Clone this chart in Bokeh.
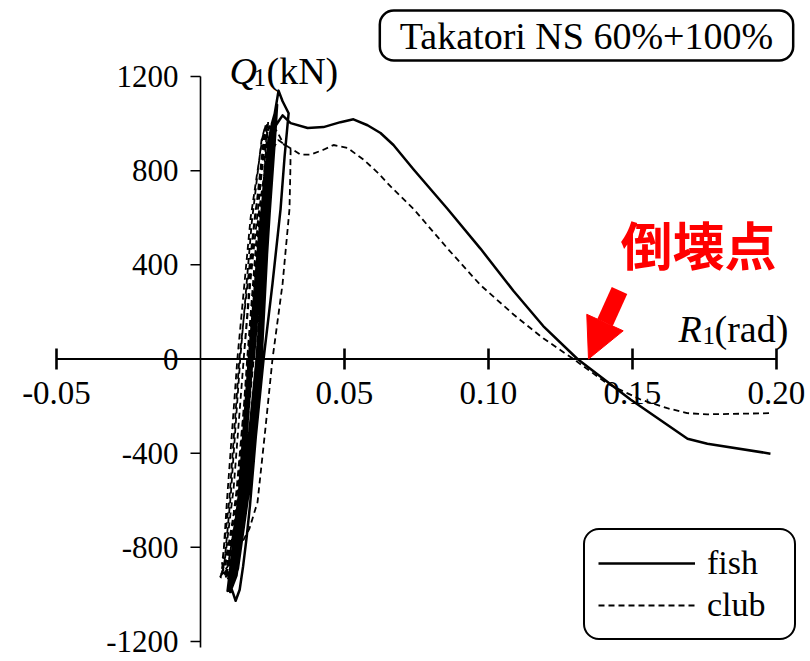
from bokeh.plotting import figure
from bokeh.models import Range1d, Label, Legend, LegendItem, Arrow, NormalHead
from bokeh.core.properties import value
from bokeh.embed import file_html
from bokeh.resources import INLINE

# ---------------- data ----------------
fish_R = [0.0185, 0.0205, 0.0228, 0.0245, 0.0252,
          0.0248, 0.0225, 0.0195, 0.0150, 0.0112, 0.0102,
          0.0112, 0.0140, 0.0178, 0.0215, 0.0250, 0.0258,
          0.0254, 0.0230, 0.0200, 0.0155, 0.0118, 0.0098,
          0.0108, 0.0138, 0.0172, 0.0210, 0.0246, 0.0262,
          0.0258, 0.0236, 0.0205, 0.0160, 0.0122, 0.0100,
          0.0105, 0.0132, 0.0168, 0.0206, 0.0242, 0.0255,
          0.0252, 0.0228, 0.0198, 0.0152, 0.0116, 0.0097,
          0.0110, 0.0142, 0.0176, 0.0214, 0.0250, 0.0266,
          0.0262, 0.0240, 0.0208, 0.0163, 0.0125, 0.0103,
          0.0108, 0.0136, 0.0170, 0.0212, 0.0248, 0.0264,
          0.0260, 0.0238, 0.0212, 0.0168, 0.0130, 0.0104,
          0.0113, 0.0145, 0.0180, 0.0220, 0.0256, 0.0271,
          0.0285, 0.0306,
          0.0292, 0.0278, 0.0250, 0.0219, 0.0192, 0.0172, 0.0160, 0.0148, 0.0136, 0.0122,
          0.0112, 0.0102, 0.0094, 0.0098,
          0.0135, 0.0175, 0.0215, 0.0255, 0.0285,
          0.0313, 0.0372, 0.0427, 0.0486, 0.0531, 0.0580, 0.0625, 0.0670, 0.0740,
          0.0858, 0.0972, 0.1087, 0.1190, 0.1309, 0.1493, 0.1691, 0.1760, 0.1979]
fish_Q = [0, 300, 650, 900, 985,
          900, 500, 0, -550, -920, -955,
          -880, -550, 0, 550, 960, 1025,
          940, 560, 0, -560, -900, -980,
          -900, -560, 0, 560, 950, 1050,
          960, 600, 0, -560, -900, -985,
          -950, -600, 0, 560, 960, 1010,
          950, 580, 0, -560, -910, -975,
          -900, -560, 0, 580, 990, 1080,
          1000, 620, 0, -580, -920, -990,
          -890, -580, 0, 590, 1000, 1070,
          990, 610, 0, -560, -890, -990,
          -900, -560, 0, 600, 1030, 1140,
          1095, 1044,
          860, 637, 320, 0, -330, -620, -760, -880, -980, -1027,
          -990, -958, -985, -945,
          -560, 0, 560, 980, 1035,
          1002, 981, 985, 1006, 1018, 993, 960, 909, 805,
          637, 469, 289, 140, 0, -172, -339, -360, -402]

club_R = [0.0150, 0.0175, 0.0205, 0.0225, 0.0232,
          0.0230, 0.0205, 0.0175, 0.0130, 0.0085, 0.0075,
          0.0085, 0.0115, 0.0150, 0.0185, 0.0222, 0.0235,
          0.0232, 0.0215, 0.0185, 0.0140, 0.0100, 0.0070,
          0.0078, 0.0092, 0.0128, 0.0174, 0.0215, 0.0228,
          0.0228, 0.0212, 0.0180, 0.0135, 0.0095, 0.0068,
          0.0082, 0.0105, 0.0138, 0.0178, 0.0212, 0.0225,
          0.0235, 0.0222, 0.0195, 0.0150, 0.0110, 0.0092,
          0.0075, 0.0100, 0.0135, 0.0190, 0.0230, 0.0245,
          0.0242, 0.0228, 0.0200, 0.0158, 0.0115, 0.0088,
          0.0098, 0.0128, 0.0162, 0.0200, 0.0240, 0.0255, 0.0267, 0.0290, 0.0313,
          0.0312, 0.0309, 0.0285, 0.0250, 0.0225, 0.0198, 0.0170, 0.0132, 0.0100, 0.0085,
          0.0092, 0.0125, 0.0165, 0.0205, 0.0240, 0.0270, 0.0300,
          0.0347, 0.0382, 0.0427, 0.0462, 0.0510, 0.0566, 0.0615, 0.0660, 0.0740,
          0.0858, 0.0972, 0.1087, 0.1190, 0.1295, 0.1413, 0.1528, 0.1621, 0.1690,
          0.1760, 0.1979]
club_Q = [0, 350, 700, 940, 990,
          930, 500, 0, -550, -880, -910,
          -850, -550, 0, 550, 960, 1010,
          950, 600, 0, -560, -880, -930,
          -860, -600, 0, 600, 940, 1000,
          940, 600, 0, -580, -880, -925,
          -880, -580, 0, 580, 930, 990,
          940, 620, 0, -600, -900, -940,
          -870, -600, 0, 620, 960, 1000,
          960, 640, 0, -600, -880, -930,
          -870, -600, 0, 600, 950, 985, 964, 910, 897,
          800, 637, 320, 0, -300, -608, -720, -809, -900, -930,
          -880, -560, 0, 600, 870, 930, 905,
          868, 868, 889, 909, 897, 847, 792, 733, 637,
          469, 314, 189, 88, 0, -105, -172, -209, -230,
          -235, -230]

x_ticks = [-0.05, 0.05, 0.10, 0.15, 0.20]
x_tick_labels = ["-0.05", "0.05", "0.10", "0.15", "0.20"]
y_ticks = [-1200, -800, -400, 0, 400, 800, 1200]
y_tick_labels = ["-1200", "-800", "-400", "0", "400", "800", "1200"]

series_names = ["fish", "club"]
title_text = "Takatori NS 60%+100%"
collapse_text = "倒壊点"

# ---------------- figure ----------------
W, H = 810, 661
x0, x1 = -0.069444, 0.211806
y0, y1 = -1284.9, 1522.8
px_per_x = W / (x1 - x0)
AX_Y = 358.5   # screen row of Q = 0 (from top)

p = figure(width=W, height=H, x_range=Range1d(x0, x1), y_range=Range1d(y0, y1),
           x_axis_type=None, y_axis_type=None, output_backend="svg",
           toolbar_location=None, min_border=0)
p.outline_line_color = None
p.background_fill_color = "white"
p.border_fill_color = "white"

SERIF = "Liberation Serif"

# axes drawn at origin
p.segment(x0=[x_ticks[0]], y0=[0], x1=[x_ticks[-1]], y1=[0], line_color="black", line_width=2)
p.segment(x0=[0], y0=[y_ticks[0] - 25], x1=[0], y1=[y_ticks[-1]], line_color="black", line_width=1.6)
p.scatter(x=x_ticks, y=[0] * len(x_ticks), marker="dash", angle=1.5708, size=21,
          line_color="black", line_width=2.6)
tick_dx = 10 / px_per_x
p.segment(x0=[0] * len(y_ticks), y0=y_ticks, x1=[-tick_dx] * len(y_ticks), y1=y_ticks,
          line_color="black", line_width=1.5)

p.text(x=x_ticks, y=[0] * len(x_ticks), text=x_tick_labels, y_offset=34,
       text_align="center", text_baseline="middle", text_font=value(SERIF),
       text_font_size="33px", text_color="black")
p.text(x=[0] * len(y_ticks), y=y_ticks, text=y_tick_labels, x_offset=-22,
       text_align="right", text_baseline="middle", text_font=value(SERIF),
       text_font_size="31px", text_color="black")

# data
r_fish = p.line(fish_R, fish_Q, line_color="black", line_width=2.5, line_join="round")
r_club = p.line(club_R, club_Q, line_color="black", line_width=1.8, line_dash="6 4")

# axis titles
def lab(x, y, text, size, style="normal", align="left"):
    p.add_layout(Label(x=x, y=H - y, x_units="screen", y_units="screen", text=text,
                       text_font=SERIF, text_font_size=size, text_font_style=style,
                       text_align=align, text_baseline="alphabetic", text_color="black"))

lab(229, 70, "Q", "38px", "italic")
lab(253, 77, "1", "25px")
lab(266, 70, "(kN)", "38px")
lab(678, 328, "R", "38px", "italic")
lab(702, 335, "1", "25px")
lab(714, 328, "(rad)", "38px")

# title box
lbl_props = Label.properties()
tkw = dict(x=586, y=H - 35, x_units="screen", y_units="screen", text=title_text,
           text_font=SERIF, text_font_size="38px", text_align="center",
           text_baseline="middle", text_color="black",
           border_line_color="black", border_line_width=2.5,
           background_fill_color="white")
if "padding" in lbl_props:
    tkw["padding"] = {"left": 20, "right": 20, "top": 4, "bottom": 4}
if "border_radius" in lbl_props:
    tkw["border_radius"] = 14
p.add_layout(Label(**tkw))

# collapse annotation
p.add_layout(Label(x=698, y=H - 243, x_units="screen", y_units="screen", text=collapse_text,
                   text_font="Noto Sans CJK JP", text_font_style="bold", text_font_size="52px",
                   text_color="#ff0000", text_align="center", text_baseline="middle"))
p.add_layout(Arrow(end=NormalHead(size=40, fill_color="#ff0000", line_color="#ff0000", line_width=1),
                   x_start=619, y_start=H - 290, x_end=588, y_end=H - AX_Y,
                   start_units="screen", end_units="screen",
                   line_color="#ff0000", line_width=17))

# legend
legend = Legend(items=[LegendItem(label=series_names[0], renderers=[r_fish]),
                       LegendItem(label=series_names[1], renderers=[r_club])],
                location=(583, H - 640), padding=13, spacing=2, margin=0,
                glyph_width=97, glyph_height=40, label_height=40, label_standoff=12,
                label_width=74, label_text_font=SERIF, label_text_font_size="34px",
                label_text_color="black",
                border_line_color="black", border_line_alpha=1.0, border_line_width=2.5,
                background_fill_color="white", background_fill_alpha=1)
if "border_radius" in Legend.properties():
    legend.border_radius = 16
p.add_layout(legend)

open("out.html", "w").write(file_html(p, INLINE))
